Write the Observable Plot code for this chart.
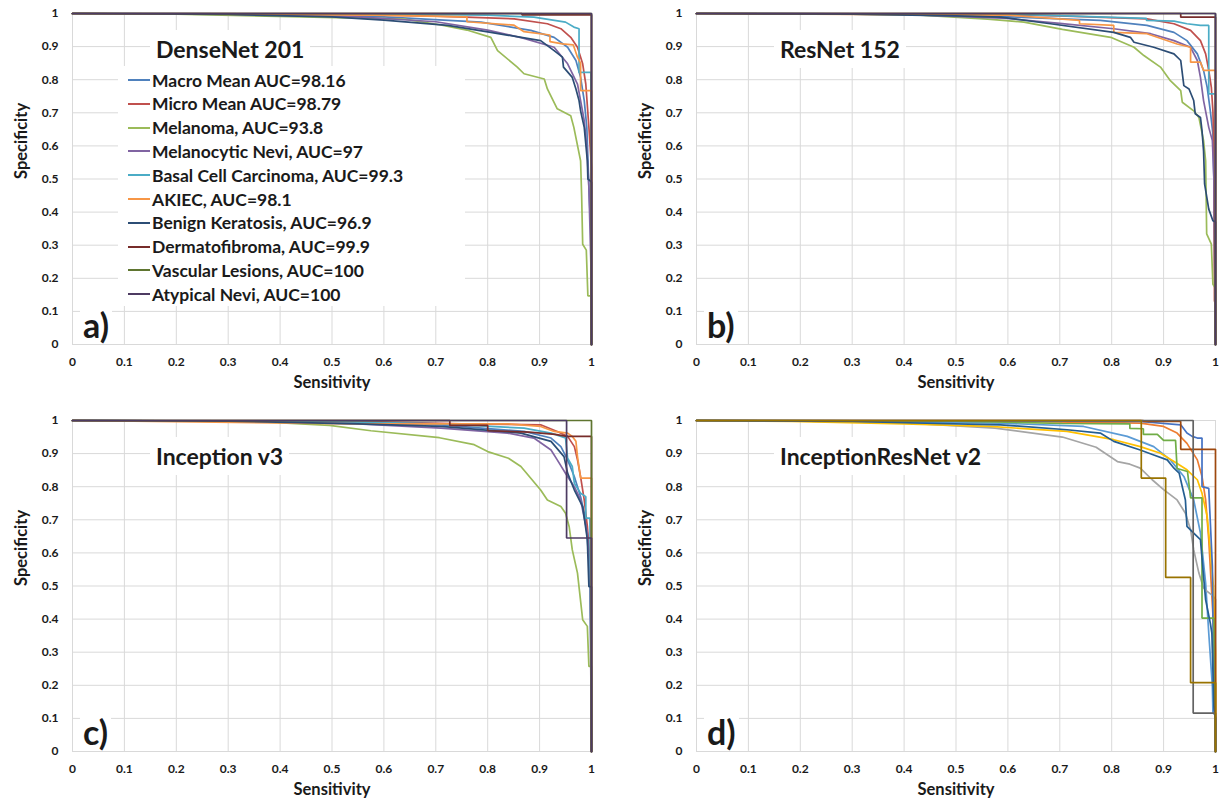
<!DOCTYPE html>
<html>
<head>
<meta charset="utf-8">
<script src="https://cdn.jsdelivr.net/npm/d3@7"></script>
<script src="https://cdn.jsdelivr.net/npm/@observablehq/plot@0.6"></script>
<style>
  html, body { margin: 0; padding: 0; background: #fff; }
  #wrap { position: relative; width: 1220px; height: 807px; overflow: hidden; font-family: Lato, "Open Sans", sans-serif; color: #1a1a1a; }
  .panel { position: absolute; width: 610px; height: 400px; }
  .title { position: absolute; background: #fff; font-weight: bold; font-size: 23px; line-height: 30px; padding: 4px 6px; white-space: nowrap; }
  .letter { position: absolute; background: #fff; font-weight: bold; font-size: 34px; line-height: 34px; padding: 2px 3px; }
  #legend { position: absolute; left: 118px; top: 66px; width: 347px; height: 240px; background: #fff; }
  .lrow { position: absolute; left: 10px; height: 20px; display: flex; align-items: center; font-weight: bold; font-size: 17.5px; white-space: nowrap; }
  .lrow .sw { width: 22px; height: 2px; margin-right: 2px; }
</style>
</head>
<body>
<div id="wrap"></div>
<script>
// ---------- categories / labels ----------
const classes = ["Macro Mean", "Micro Mean", "Melanoma", "Melanocytic Nevi", "Basal Cell Carcinoma", "AKIEC", "Benign Keratosis", "Dermatofibroma", "Vascular Lesions", "Atypical Nevi"];
const denseAUC = ["98.16", "98.79", "93.8", "97", "99.3", "98.1", "96.9", "99.9", "100", "100"];
const panelTitles = ["DenseNet 201", "ResNet 152", "Inception v3", "InceptionResNet v2"];
const panelLetters = ["a)", "b)", "c)", "d)"];
const xTicks = [0, 0.1, 0.2, 0.3, 0.4, 0.5, 0.6, 0.7, 0.8, 0.9, 1];
const yTicks = [0, 0.1, 0.2, 0.3, 0.4, 0.5, 0.6, 0.7, 0.8, 0.9, 1];
const colors2007 = ["#4F81BD", "#C0504D", "#9BBB59", "#8064A2", "#4BACC6", "#F79646", "#2C4D75", "#772C2A", "#5F7530", "#4D3B62"];
const colors2013 = ["#5B9BD5", "#ED7D31", "#A5A5A5", "#FFC000", "#4472C4", "#70AD47", "#255E91", "#9E480E", "#636363", "#997300"];

// ---------- a) DenseNet 201  [sensitivity, specificity] ----------
const dn_macro = [[0,1],[0.3,0.999],[0.6,0.99],[0.787,0.974],[0.883,0.949],[0.928,0.928],[0.954,0.898],[0.97,0.858],[0.979,0.807],[0.986,0.737],[0.991,0.656],[0.995,0.474],[0.999,0.334],[1,0]];
const dn_micro = [[0,1],[0.5,0.998],[0.7,0.992],[0.851,0.984],[0.915,0.969],[0.941,0.954],[0.96,0.928],[0.973,0.898],[0.983,0.848],[0.989,0.787],[0.995,0.656],[1,0.535],[1,0]];
const dn_mel = [[0,1],[0.2,0.998],[0.442,0.99],[0.64,0.983],[0.707,0.966],[0.76,0.95],[0.806,0.928],[0.819,0.888],[0.857,0.838],[0.87,0.818],[0.909,0.802],[0.915,0.772],[0.934,0.712],[0.96,0.691],[0.966,0.656],[0.979,0.555],[0.981,0.45],[0.983,0.303],[0.99,0.285],[0.993,0.147],[1,0.147],[1,0]];
const dn_nevi = [[0,1],[0.3,0.998],[0.55,0.99],[0.7,0.975],[0.8,0.95],[0.87,0.925],[0.928,0.898],[0.954,0.848],[0.973,0.787],[0.979,0.737],[0.986,0.676],[0.991,0.595],[0.995,0.474],[0.999,0.232],[1,0]];
const dn_bcc = [[0,1],[0.6,0.998],[0.8,0.995],[0.889,0.989],[0.95,0.974],[0.966,0.959],[0.976,0.954],[0.976,0.822],[0.999,0.822],[1,0]];
const dn_akiec = [[0,1],[0.58,0.995],[0.76,0.99],[0.76,0.975],[0.85,0.965],[0.87,0.945],[0.92,0.935],[0.92,0.915],[0.944,0.908],[0.965,0.905],[0.973,0.868],[0.979,0.85],[0.979,0.767],[1,0.767],[1,0]];
const dn_bkl = [[0,1],[0.3,0.997],[0.5,0.99],[0.6,0.98],[0.723,0.964],[0.806,0.943],[0.902,0.918],[0.928,0.888],[0.944,0.868],[0.946,0.838],[0.963,0.807],[0.97,0.772],[0.976,0.737],[0.979,0.706],[0.986,0.656],[0.992,0.555],[0.993,0.5],[0.997,0.495],[1,0.49],[1,0]];
const dn_df = [[0,1],[0.866,1],[0.866,0.996],[1,0.996],[1,0]];
const dn_vasc = [[0,1],[1,1],[1,0]];
const dn_atyp = [[0,1],[1,1],[1,0]];

// ---------- b) ResNet 152 ----------
const rn_macro = [[0,1],[0.4,0.998],[0.6,0.99],[0.778,0.979],[0.868,0.964],[0.92,0.943],[0.945,0.918],[0.965,0.878],[0.977,0.828],[0.984,0.777],[0.99,0.706],[0.995,0.636],[0.997,0.495],[1,0]];
const rn_micro = [[0,1],[0.5,0.998],[0.7,0.993],[0.868,0.984],[0.92,0.969],[0.952,0.949],[0.971,0.918],[0.981,0.878],[0.987,0.828],[0.992,0.777],[0.995,0.706],[0.997,0.585],[0.998,0.132],[1,0.12],[1,0]];
const rn_mel = [[0,1],[0.3,0.998],[0.432,0.995],[0.561,0.983],[0.631,0.974],[0.705,0.952],[0.798,0.928],[0.843,0.898],[0.862,0.873],[0.894,0.838],[0.913,0.797],[0.933,0.767],[0.936,0.732],[0.958,0.706],[0.968,0.686],[0.977,0.616],[0.981,0.555],[0.983,0.334],[0.992,0.303],[0.995,0.182],[1,0.17],[1,0]];
const rn_nevi = [[0,1],[0.4,0.997],[0.6,0.985],[0.7,0.97],[0.804,0.954],[0.875,0.939],[0.92,0.918],[0.952,0.898],[0.965,0.858],[0.971,0.807],[0.977,0.737],[0.987,0.656],[0.994,0.616],[0.997,0.495],[1,0]];
const rn_bcc = [[0,1],[0.6,0.998],[0.867,0.985],[0.867,0.979],[0.92,0.977],[0.945,0.969],[0.971,0.964],[0.987,0.964],[0.987,0.757],[1,0.757],[1,0]];
const rn_akiec = [[0,1],[0.6,0.995],[0.738,0.979],[0.738,0.969],[0.804,0.964],[0.804,0.943],[0.868,0.939],[0.926,0.908],[0.952,0.898],[0.952,0.853],[0.971,0.853],[0.977,0.828],[1,0.828],[1,0]];
const rn_bkl = [[0,1],[0.3,0.998],[0.5,0.993],[0.586,0.989],[0.682,0.969],[0.804,0.943],[0.836,0.928],[0.843,0.913],[0.881,0.898],[0.92,0.878],[0.933,0.858],[0.939,0.782],[0.949,0.772],[0.958,0.737],[0.961,0.697],[0.971,0.686],[0.974,0.646],[0.977,0.585],[0.979,0.485],[0.987,0.409],[0.995,0.374],[1,0.37],[1,0]];
const rn_df = [[0,1],[0.933,1],[0.933,0.989],[1,0.989],[1,0]];
const rn_vasc = [[0,1],[1,1],[1,0]];
const rn_atyp = [[0,1],[1,1],[1,0]];

// ---------- c) Inception v3 ----------
const iv_macro = [[0,1],[0.3,0.999],[0.55,0.993],[0.71,0.987],[0.87,0.967],[0.922,0.947],[0.941,0.921],[0.954,0.881],[0.967,0.83],[0.979,0.77],[0.989,0.7],[0.997,0.539],[1,0.2],[1,0]];
const iv_micro = [[0,1],[0.575,0.997],[0.75,0.99],[0.902,0.987],[0.934,0.967],[0.954,0.952],[0.967,0.921],[0.973,0.881],[0.979,0.83],[0.986,0.76],[0.992,0.68],[0.997,0.579],[0.999,0.358],[1,0]];
const iv_mel = [[0,1],[0.2,0.999],[0.376,0.995],[0.495,0.985],[0.575,0.969],[0.707,0.948],[0.774,0.927],[0.8,0.906],[0.84,0.886],[0.864,0.861],[0.902,0.79],[0.915,0.76],[0.941,0.74],[0.95,0.72],[0.957,0.679],[0.963,0.609],[0.973,0.539],[0.983,0.398],[0.992,0.378],[0.995,0.257],[1,0.257],[1,0]];
const iv_nevi = [[0,1],[0.3,0.998],[0.55,0.99],[0.71,0.977],[0.838,0.962],[0.889,0.947],[0.922,0.911],[0.934,0.881],[0.954,0.83],[0.967,0.8],[0.979,0.76],[0.992,0.66],[0.997,0.539],[1,0]];
const iv_bcc = [[0,1],[0.5,0.997],[0.71,0.99],[0.87,0.977],[0.922,0.962],[0.95,0.947],[0.954,0.886],[0.963,0.861],[0.967,0.81],[0.979,0.78],[0.989,0.77],[0.989,0.705],[0.997,0.705],[1,0]];
const iv_akiec = [[0,1],[0.561,0.99],[0.838,0.99],[0.902,0.982],[0.928,0.967],[0.954,0.962],[0.963,0.952],[0.97,0.937],[0.973,0.891],[0.979,0.826],[1,0.826],[1,0]];
const iv_bkl = [[0,1],[0.3,0.998],[0.55,0.99],[0.71,0.982],[0.864,0.962],[0.922,0.937],[0.947,0.891],[0.954,0.841],[0.967,0.79],[0.983,0.74],[0.992,0.64],[0.995,0.498],[1,0.498],[1,0]];
const iv_df = [[0,1],[0.727,1],[0.727,0.985],[0.8,0.985],[0.8,0.969],[0.88,0.965],[0.93,0.958],[0.952,0.952],[1,0.952],[1,0]];
const iv_vasc = [[0,1],[1,1],[1,0]];
const iv_atyp = [[0,1],[0.952,1],[0.952,0.645],[1,0.645],[1,0]];

// ---------- d) InceptionResNet v2 ----------
const ir_macro = [[0,1],[0.3,0.998],[0.586,0.992],[0.746,0.982],[0.83,0.952],[0.881,0.921],[0.913,0.881],[0.939,0.831],[0.958,0.76],[0.971,0.66],[0.981,0.509],[0.987,0.358],[0.994,0.196],[0.995,0.116],[1,0.11],[1,0]];
const ir_micro = [[0,1],[0.6,0.998],[0.855,0.992],[0.9,0.982],[0.926,0.962],[0.945,0.931],[0.965,0.881],[0.974,0.831],[0.981,0.76],[0.987,0.64],[0.992,0.498],[0.997,0.358],[1,0.2],[1,0]];
const ir_mel = [[0,1],[0.2,0.998],[0.4,0.993],[0.575,0.977],[0.705,0.95],[0.77,0.919],[0.811,0.876],[0.835,0.868],[0.855,0.856],[0.878,0.821],[0.9,0.791],[0.926,0.76],[0.942,0.72],[0.952,0.67],[0.958,0.609],[0.968,0.539],[0.977,0.494],[0.984,0.484],[0.995,0.47],[1,0.46],[1,0]];
const ir_nevi = [[0,1],[0.183,0.997],[0.4,0.99],[0.566,0.982],[0.714,0.967],[0.804,0.942],[0.855,0.921],[0.894,0.901],[0.92,0.876],[0.945,0.851],[0.965,0.821],[0.974,0.78],[0.984,0.71],[0.99,0.609],[0.996,0.498],[1,0.3],[1,0]];
const ir_bcc = [[0,1],[0.6,0.999],[0.855,0.997],[0.933,0.987],[0.945,0.962],[0.955,0.952],[0.965,0.947],[0.974,0.947],[0.974,0.8],[0.987,0.795],[0.994,0.559],[0.997,0.126],[1,0.1],[1,0]];
const ir_akiec = [[0,1],[0.5,0.998],[0.705,0.991],[0.835,0.99],[0.835,0.976],[0.861,0.975],[0.861,0.958],[0.888,0.958],[0.9,0.94],[0.923,0.94],[0.926,0.855],[0.946,0.846],[0.952,0.766],[0.974,0.766],[0.974,0.403],[0.997,0.403],[1,0]];
const ir_bkl = [[0,1],[0.3,0.997],[0.586,0.987],[0.714,0.972],[0.778,0.962],[0.804,0.937],[0.855,0.911],[0.881,0.896],[0.907,0.881],[0.92,0.856],[0.93,0.841],[0.936,0.8],[0.942,0.76],[0.945,0.68],[0.958,0.66],[0.971,0.64],[0.977,0.529],[0.981,0.458],[0.99,0.388],[0.993,0.358],[0.997,0.136],[1,0.1],[1,0]];
const ir_df = [[0,1],[0.861,1],[0.861,0.997],[0.933,0.997],[0.933,0.913],[1,0.913],[1,0]];
const ir_vasc = [[0,1],[0.957,1],[0.957,0.116],[1,0.116],[1,0]];
const ir_atyp = [[0,1],[0.857,1],[0.857,0.826],[0.904,0.826],[0.904,0.526],[0.952,0.526],[0.952,0.208],[1,0.208],[1,0]];

const panelSeries = [
  [dn_macro, dn_micro, dn_mel, dn_nevi, dn_bcc, dn_akiec, dn_bkl, dn_df, dn_vasc, dn_atyp],
  [rn_macro, rn_micro, rn_mel, rn_nevi, rn_bcc, rn_akiec, rn_bkl, rn_df, rn_vasc, rn_atyp],
  [iv_macro, iv_micro, iv_mel, iv_nevi, iv_bcc, iv_akiec, iv_bkl, iv_df, iv_vasc, iv_atyp],
  [ir_macro, ir_micro, ir_mel, ir_nevi, ir_bcc, ir_akiec, ir_bkl, ir_df, ir_vasc, ir_atyp]
];
const panelColors = [colors2007, colors2007, colors2007, colors2013];
const panelPos = [[0, 0], [624, 0], [0, 407], [624, 407]];

const fmt = d => String(d);
const wrap = document.getElementById("wrap");

panelSeries.forEach((series, p) => {
  const rows = [];
  series.forEach((pts, i) => pts.forEach(([s, v]) => rows.push({name: classes[i], sens: s, spec: v})));
  const chart = Plot.plot({
    width: 610, height: 400,
    marginTop: 13, marginRight: 19, marginBottom: 56, marginLeft: 72,
    x: {domain: [0, 1]},
    y: {domain: [0, 1]},
    color: {domain: classes, range: panelColors[p]},
    style: {fontFamily: "Lato, 'Open Sans', sans-serif", fontSize: "12px", fontWeight: "bold", color: "#1a1a1a", background: "transparent", overflow: "visible"},
    marks: [
      Plot.gridX({ticks: xTicks, stroke: "#d9d9d9", strokeOpacity: 1, strokeWidth: 1}),
      Plot.gridY({ticks: yTicks, stroke: "#d9d9d9", strokeOpacity: 1, strokeWidth: 1}),
      Plot.axisX({ticks: xTicks, tickFormat: fmt, tickSize: 0, tickPadding: 13, label: null}),
      Plot.axisY({ticks: yTicks, tickFormat: fmt, tickSize: 0, tickPadding: 14, label: null}),
      Plot.line(rows, {x: "sens", y: "spec", z: "name", stroke: "name", strokeWidth: 1.7, strokeLinejoin: "miter"}),
      Plot.text(["Sensitivity"], {text: d => d, frameAnchor: "bottom", dy: 43, fontSize: 16.5}),
      Plot.text(["Specificity"], {text: d => d, frameAnchor: "left", dx: -51, rotate: -90, fontSize: 16.5})
    ]
  });
  const holder = document.createElement("div");
  holder.className = "panel";
  holder.style.left = panelPos[p][0] + "px";
  holder.style.top = panelPos[p][1] + "px";
  holder.appendChild(chart);
  wrap.appendChild(holder);

  const t = document.createElement("div");
  t.className = "title";
  t.textContent = panelTitles[p];
  t.style.left = (panelPos[p][0] + 150) + "px";
  t.style.top = (panelPos[p][1] + 30) + "px";
  wrap.appendChild(t);

  const l = document.createElement("div");
  l.className = "letter";
  l.textContent = panelLetters[p];
  l.style.left = (panelPos[p][0] + 80) + "px";
  l.style.top = (panelPos[p][1] + 306) + "px";
  wrap.appendChild(l);
});

// legend (panel a)
const legend = document.createElement("div");
legend.id = "legend";
classes.forEach((c, i) => {
  const row = document.createElement("div");
  row.className = "lrow";
  row.style.top = (4 + i * 23.8) + "px";
  const sw = document.createElement("span");
  sw.className = "sw";
  sw.style.background = colors2007[i];
  const tx = document.createElement("span");
  tx.textContent = i < 2 ? `${c} AUC=${denseAUC[i]}` : `${c}, AUC=${denseAUC[i]}`;
  row.appendChild(sw);
  row.appendChild(tx);
  legend.appendChild(row);
});
wrap.appendChild(legend);
</script>
</body>
</html>
